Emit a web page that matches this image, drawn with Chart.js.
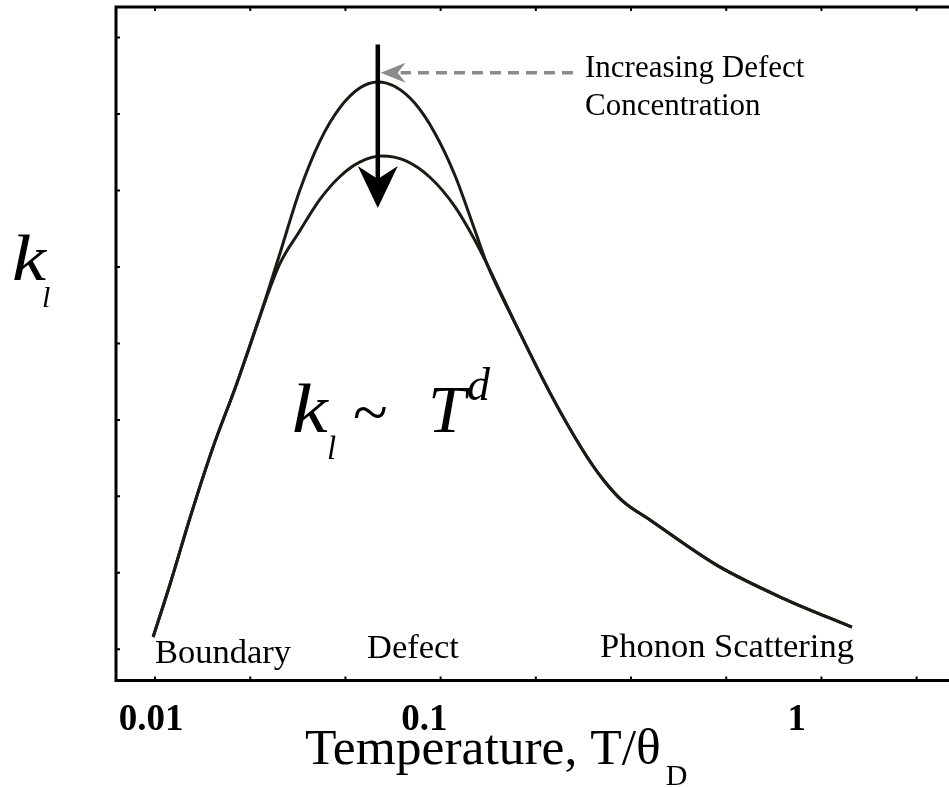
<!DOCTYPE html>
<html>
<head>
<meta charset="utf-8">
<script src="https://cdn.jsdelivr.net/npm/chart.js@4.4.1/dist/chart.umd.min.js"></script>
<style>
  html, body { margin: 0; padding: 0; background: #fff; }
  #wrap { width: 949px; height: 787px; }
</style>
</head>
<body>
<div id="wrap"><canvas id="kChart" width="949" height="787"></canvas></div>
<script>
// x: one unit per minor tick on the frame, y: arbitrary k_l units (one per left tick)
const boundaryX = [-0.02, 0.16, 0.37, 0.60, 0.86, 1.10];
const boundaryY = [0.16, 0.86, 1.73, 2.61, 3.48, 4.35];
const lowDefectX = [1.31, 1.52, 1.73, 1.94, 2.15, 2.34, 2.52, 2.73, 2.94, 3.15, 3.36];
const lowDefectY = [5.17, 6.00, 6.64, 7.08, 7.34, 7.42, 7.36, 7.14, 6.75, 6.20, 5.48];
const highDefectX = [1.31, 1.52, 1.73, 1.94, 2.15, 2.38, 2.63, 2.89, 3.15, 3.36];
const highDefectY = [5.04, 5.47, 5.88, 6.18, 6.37, 6.45, 6.39, 6.17, 5.79, 5.35];
const phononX = [3.49, 3.80, 4.15, 4.49, 4.70, 4.91, 5.20, 5.90, 6.59, 7.32];
const phononY = [5.03, 4.22, 3.35, 2.61, 2.23, 1.94, 1.69, 1.10, 0.67, 0.29];

const tickLabelX = [-0.04, 2.83, 6.74];
const tickLabels = ['0.01', '0.1', '1'];
const minorTicks = [0, 1, 2, 3, 4, 5, 6, 7, 8];

const SERIF = "'Liberation Serif', 'Times New Roman', serif";
const curveColor = '#1c1b13';

function toPoints(xs, ys) {
  return xs.map((x, i) => ({ x: x, y: ys[i] }));
}

const lowCurve = toPoints(boundaryX.concat(lowDefectX, phononX), boundaryY.concat(lowDefectY, phononY));
const highCurve = toPoints(boundaryX.concat(highDefectX, phononX), boundaryY.concat(highDefectY, phononY));

// peak of the clean curve, used to place the arrows
const peakIdx = lowDefectY.indexOf(Math.max(...lowDefectY));
const peakX = lowDefectX[peakIdx];

function arrowHead(c, tipX, tipY, dx, dy, len, half, notch) {
  // dx,dy: unit direction the arrow points to
  const bx = tipX - dx * len, by = tipY - dy * len;
  const nx = tipX - dx * (len - notch), ny = tipY - dy * (len - notch);
  c.beginPath();
  c.moveTo(tipX, tipY);
  c.lineTo(bx - dy * half, by + dx * half);
  c.lineTo(nx, ny);
  c.lineTo(bx + dy * half, by - dx * half);
  c.closePath();
  c.fill();
}

// text a bit wider than the font gives (the original italics are broad)
function wideText(c, str, x, y, sx) {
  c.save();
  c.translate(x, y);
  c.scale(sx, 1);
  c.fillText(str, 0, 0);
  c.restore();
}

const framePlugin = {
  id: 'frame',
  afterDraw(chart) {
    const c = chart.ctx;
    const a = chart.chartArea;
    const xs = chart.scales.x, ys = chart.scales.y;
    c.save();

    // frame (left, top, bottom)
    c.strokeStyle = '#000';
    c.lineWidth = 3;
    c.beginPath();
    c.moveTo(a.right + 2, a.top);
    c.lineTo(a.left, a.top);
    c.lineTo(a.left, a.bottom);
    c.lineTo(a.right + 2, a.bottom);
    c.stroke();

    // small inner ticks
    c.lineWidth = 2;
    c.beginPath();
    minorTicks.forEach(v => {
      const px = xs.getPixelForValue(v);
      c.moveTo(px, a.bottom);
      c.lineTo(px, a.bottom - 4);
      c.moveTo(px, a.top);
      c.lineTo(px, a.top + 4);
      const py = ys.getPixelForValue(v);
      c.moveTo(a.left, py);
      c.lineTo(a.left + 4, py);
    });
    c.stroke();

    // black arrow: increasing defect concentration lowers the peak
    const ax = xs.getPixelForValue(peakX);
    const aTop = ys.getPixelForValue(7.91);
    const aTip = ys.getPixelForValue(5.77);
    c.strokeStyle = '#000';
    c.fillStyle = '#000';
    c.lineWidth = 4.5;
    c.beginPath();
    c.moveTo(ax, aTop);
    c.lineTo(ax, aTip - 25);
    c.stroke();
    arrowHead(c, ax, aTip, 0, 1, 42, 20, 13);

    // grey dashed pointer
    const gy = ys.getPixelForValue(7.54);
    const gFrom = xs.getPixelForValue(4.39);
    const gTip = xs.getPixelForValue(2.37);
    c.strokeStyle = '#8a8a8a';
    c.fillStyle = '#8a8a8a';
    c.lineWidth = 3.5;
    c.setLineDash([11, 7]);
    c.beginPath();
    c.moveTo(gFrom, gy);
    c.lineTo(gTip + 20, gy);
    c.stroke();
    c.setLineDash([]);
    arrowHead(c, gTip, gy, -1, 0, 25, 10, 8);

    // texts
    c.fillStyle = '#000';
    c.textBaseline = 'alphabetic';
    c.textAlign = 'left';

    c.font = '31px ' + SERIF;
    c.fillText('Increasing Defect', 585, 77);
    c.fillText('Concentration', 585, 115);

    c.font = '34.5px ' + SERIF;
    c.fillText('Boundary', 155, 663);
    c.fillText('Defect', 367, 658);
    c.fillText('Phonon Scattering', 600, 657);

    // y label k_l
    c.font = 'italic 65px ' + SERIF;
    wideText(c, 'k', 12, 280, 1.18);
    c.font = 'italic 30px ' + SERIF;
    c.fillText('l', 42, 307);

    // formula k_l ~ T^d
    c.font = 'italic 70px ' + SERIF;
    wideText(c, 'k', 292, 432, 1.15);
    c.font = 'italic 33px ' + SERIF;
    c.fillText('l', 327, 459);
    c.font = '64px ' + SERIF;
    c.fillText('~', 353, 434);
    c.font = 'italic 68px ' + SERIF;
    c.fillText('T', 428, 432);
    c.font = 'italic 46px ' + SERIF;
    c.fillText('d', 467, 400);

    // x title
    c.font = '51.5px ' + SERIF;
    const title = 'Temperature, T/\u03b8';
    c.fillText(title, 305, 764);
    const tw = c.measureText(title).width;
    c.font = '30px ' + SERIF;
    c.fillText('D', 305 + tw + 5, 785);

    c.restore();
  }
};

const ctx = document.getElementById('kChart').getContext('2d');
const chart = new Chart(ctx, {
  type: 'line',
  data: {
    datasets: [
      {
        label: 'Low defect concentration',
        data: lowCurve,
        borderColor: curveColor,
        borderWidth: 3,
        pointRadius: 0,
        cubicInterpolationMode: 'monotone',
        fill: false
      },
      {
        label: 'High defect concentration',
        data: highCurve,
        borderColor: curveColor,
        borderWidth: 3,
        pointRadius: 0,
        cubicInterpolationMode: 'monotone',
        fill: false
      }
    ]
  },
  options: {
    responsive: false,
    animation: false,
    layout: { padding: { left: 116, top: 7, right: 0, bottom: 34 } },
    plugins: {
      legend: { display: false },
      tooltip: { enabled: false }
    },
    scales: {
      x: {
        type: 'linear',
        min: -0.41,
        max: 8.34,
        grid: { display: false },
        border: { display: false },
        afterBuildTicks: axis => {
          axis.ticks = tickLabelX.map(v => ({ value: v }));
        },
        ticks: {
          autoSkip: false,
          maxRotation: 0,
          padding: 10,
          color: '#000',
          font: { family: SERIF, size: 37, weight: 'bold' },
          callback: (v, i) => tickLabels[i]
        }
      },
      y: {
        type: 'linear',
        min: -0.41,
        max: 8.40,
        display: false
      }
    }
  },
  plugins: [framePlugin]
});
</script>
</body>
</html>
